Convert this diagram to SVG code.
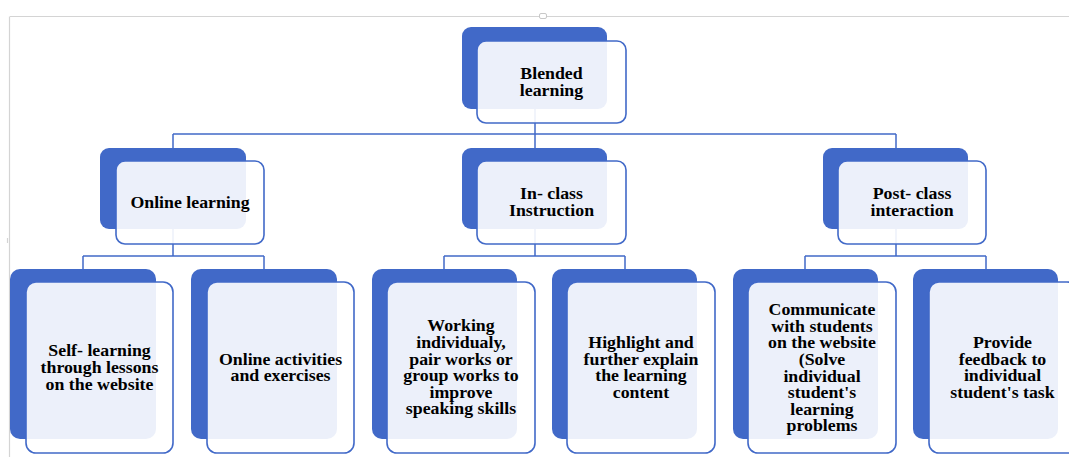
<svg xmlns="http://www.w3.org/2000/svg" width="1069" height="457" viewBox="0 0 1069 457">
  <style>
    .back { fill: #4169C8; }
    .front { fill: #FFFFFF; fill-opacity: 0.9; stroke: #4169C8; stroke-width: 1.6; }
    .wire { fill: none; stroke: #4169C8; stroke-width: 1.5; }
    .frame { fill: none; stroke: #D4D4D4; stroke-width: 1.2; }
    .label { font-family: 'Liberation Serif', 'DejaVu Serif', serif; font-weight: 700; font-size: 16.5px; fill: #000; text-anchor: middle; }
  </style>

  <!-- canvas frame -->
  <g id="frame">
    <path class="frame" d="M10 16.5 H1069 M9.5 16.5 V457"/>
    <rect x="539.5" y="13.5" width="7" height="5" rx="1.5" fill="#FFFFFF" stroke="#C8C8C8" stroke-width="1"/>
    <path d="M7.5 238 V243" stroke="#D4D4D4" stroke-width="1.2"/>
  </g>

  <!-- connectors -->
  <g id="connectors">
    <path class="wire" d="M535 109 V134 M173 134 H896 M173 134 V148 M535 134 V148 M896 134 V148"/>
    <path class="wire" d="M173 229 V256 M83 256 H264 M83 256 V269 M264 256 V269"/>
    <path class="wire" d="M535 229 V256 M444 256 H625 M444 256 V269 M625 256 V269"/>
    <path class="wire" d="M896 229 V256 M805 256 H986 M805 256 V269 M986 256 V269"/>
  </g>

  <!-- root -->
  <g id="blended-learning">
    <rect class="back" x="462" y="27" width="145" height="82" rx="9"/>
    <rect class="front" x="477" y="41" width="149" height="82" rx="9"/>
    <text class="label" font-family="Liberation Serif, serif" transform="translate(551.5 0) scale(1.08 1)"><tspan x="0" y="79">Blended</tspan><tspan x="0" y="95.6">learning</tspan></text>
  </g>

  <!-- second level -->
  <g id="online-learning">
    <rect class="back" x="100" y="148" width="146" height="81" rx="9"/>
    <rect class="front" x="116" y="161" width="148" height="83" rx="9"/>
    <text class="label" transform="translate(190 0) scale(1.08 1)"><tspan x="0" y="208">Online learning</tspan></text>
  </g>

  <g id="in-class-instruction">
    <rect class="back" x="462" y="148" width="145" height="81" rx="9"/>
    <rect class="front" x="477" y="161" width="149" height="83" rx="9"/>
    <text class="label" transform="translate(551.5 0) scale(1.08 1)"><tspan x="0" y="199.5">In- class</tspan><tspan x="0" y="216.1">Instruction</tspan></text>
  </g>

  <g id="post-class-interaction">
    <rect class="back" x="823" y="148" width="145" height="81" rx="9"/>
    <rect class="front" x="838" y="161" width="148" height="83" rx="9"/>
    <text class="label" transform="translate(912 0) scale(1.08 1)"><tspan x="0" y="199.5">Post- class</tspan><tspan x="0" y="216.1">interaction</tspan></text>
  </g>

  <!-- third level -->
  <g id="self-learning">
    <rect class="back" x="10" y="269" width="146" height="170" rx="10"/>
    <rect class="front" x="26" y="282" width="147" height="171" rx="10"/>
    <text class="label" transform="translate(99.5 0) scale(1.08 1)"><tspan x="0" y="356.5">Self- learning</tspan><tspan x="0" y="373.1">through lessons</tspan><tspan x="0" y="389.7">on the website</tspan></text>
  </g>

  <g id="online-activities">
    <rect class="back" x="191" y="269" width="146" height="170" rx="10"/>
    <rect class="front" x="207" y="282" width="147" height="171" rx="10"/>
    <text class="label" transform="translate(280.5 0) scale(1.08 1)"><tspan x="0" y="364.8">Online activities</tspan><tspan x="0" y="381.4">and exercises</tspan></text>
  </g>

  <g id="working-groups">
    <rect class="back" x="372" y="269" width="145" height="170" rx="10"/>
    <rect class="front" x="387" y="282" width="148" height="171" rx="10"/>
    <text class="label" transform="translate(461 0) scale(1.08 1)"><tspan x="0" y="331.5">Working</tspan><tspan x="0" y="348.1">individualy,</tspan><tspan x="0" y="364.7">pair works or</tspan><tspan x="0" y="381.3">group works to</tspan><tspan x="0" y="397.9">improve</tspan><tspan x="0" y="414.5">speaking skills</tspan></text>
  </g>

  <g id="highlight-content">
    <rect class="back" x="552" y="269" width="145" height="170" rx="10"/>
    <rect class="front" x="567" y="282" width="148" height="171" rx="10"/>
    <text class="label" transform="translate(641 0) scale(1.08 1)"><tspan x="0" y="348">Highlight and</tspan><tspan x="0" y="364.6">further explain</tspan><tspan x="0" y="381.2">the learning</tspan><tspan x="0" y="397.8">content</tspan></text>
  </g>

  <g id="communicate-website">
    <rect class="back" x="733" y="269" width="145" height="170" rx="10"/>
    <rect class="front" x="748" y="282" width="148" height="171" rx="10"/>
    <text class="label" transform="translate(822 0) scale(1.08 1)"><tspan x="0" y="315.3">Communicate</tspan><tspan x="0" y="331.9">with students</tspan><tspan x="0" y="348.5">on the website</tspan><tspan x="0" y="365.1">(Solve</tspan><tspan x="0" y="381.7">individual</tspan><tspan x="0" y="398.3">student's</tspan><tspan x="0" y="414.9">learning</tspan><tspan x="0" y="431.5">problems</tspan></text>
  </g>

  <g id="provide-feedback">
    <rect class="back" x="913" y="269" width="145" height="170" rx="10"/>
    <rect class="front" x="929" y="282" width="148" height="171" rx="10"/>
    <text class="label" transform="translate(1002.5 0) scale(1.08 1)"><tspan x="0" y="348">Provide</tspan><tspan x="0" y="364.6">feedback to</tspan><tspan x="0" y="381.2">individual</tspan><tspan x="0" y="397.8">student's task</tspan></text>
  </g>
</svg>
